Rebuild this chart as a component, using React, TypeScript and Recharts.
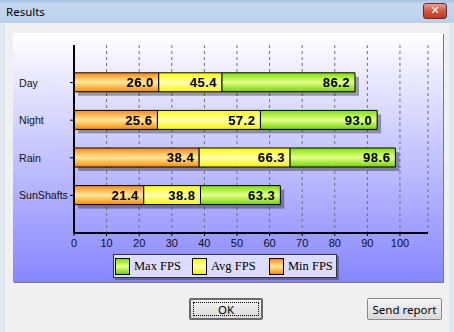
import React from "react";
import { BarChart, Bar, XAxis, YAxis, CartesianGrid, LabelList } from "recharts";

const categories = ["Day", "Night", "Rain", "SunShafts"];
const minFps = [26.0, 25.6, 38.4, 21.4];
const avgFps = [45.4, 57.2, 66.3, 38.8];
const maxFps = [86.2, 93.0, 98.6, 63.3];
const xTicks = [0, 10, 20, 30, 40, 50, 60, 70, 80, 90, 100];
const legendItems = [
  { name: "Max FPS", grad: "linear-gradient(#7fe000, #e4ff8a 50%, #6fd000)" },
  { name: "Avg FPS", grad: "linear-gradient(#ffff00, #ffffb0 50%, #f4f400)" },
  { name: "Min FPS", grad: "linear-gradient(#ff8c10, #ffe79a 50%, #ff8c00)" },
];

// stacked segments are the gaps between the readings
const rows = categories.map((name, i) => ({
  name,
  min: minFps[i],
  avg: avgFps[i],
  max: maxFps[i],
  avgSeg: +(avgFps[i] - minFps[i]).toFixed(1),
  maxSeg: +(maxFps[i] - avgFps[i]).toFixed(1),
}));

const labelStyle = { fontFamily: "Liberation Sans, Arial, sans-serif", fontSize: 13, fontWeight: 700, letterSpacing: 0.5 };
const fmt = (v: any) => Number(v).toFixed(1);

function YTick(props: any) {
  const { y, payload } = props;
  return (
    <text x={6} y={y} dy={4} fontSize={10.6} fontFamily="Liberation Sans, Arial, sans-serif" fill="#111">
      {payload.value}
    </text>
  );
}

// draws the drop shadow of the whole stack under the first segment
function MinShape(props: any) {
  const { x, y, width, height, payload } = props;
  const full = payload.min > 0 ? (width * payload.max) / payload.min : width;
  return (
    <g>
      <rect x={x + 4} y={y + 4} width={full} height={height} fill="rgba(0,0,0,0.33)" />
      <rect x={x} y={y} width={width} height={height} fill="url(#gMin)" stroke="#000" />
    </g>
  );
}

function Button({ left, width, label, def }: { left: number; width: number; label: string; def?: boolean }) {
  return (
    <div
      style={{
        position: "absolute",
        left,
        top: 298,
        width,
        height: 22,
        boxSizing: "border-box",
        border: def ? "2px solid #6a6a6a" : "1px solid #8a8a8a",
        borderRadius: 2,
        background: "linear-gradient(#f6f6f6, #e6e6e6 50%, #dadada)",
        fontFamily: "Noto Sans, Arial, sans-serif",
        fontSize: 11.5,
        display: "flex",
        alignItems: "center",
        justifyContent: "center",
        whiteSpace: "nowrap",
      }}
    >
      {def && (
        <div style={{ position: "absolute", left: 2, top: 2, right: 2, bottom: 2, border: "1px dotted #000" }} />
      )}
      {label}
    </div>
  );
}

export default function App() {
  return (
    <div style={{ position: "fixed", left: 0, top: 0, width: 454, height: 332, background: "#f0f0f0", overflow: "hidden" }}>
      {/* title bar */}
      <div
        style={{
          position: "absolute",
          left: 0,
          top: 0,
          width: 454,
          height: 23,
          background: "linear-gradient(#a9c3e4, #c4d7ef 20%, #bad0ea)",
        }}
      >
        <span
          style={{
            position: "absolute",
            left: 6,
            top: 4,
            fontFamily: "Noto Sans, Arial, sans-serif",
            fontSize: 11.5,
            color: "#000",
          }}
        >
          Results
        </span>
        <div
          style={{
            position: "absolute",
            left: 423,
            top: 3,
            width: 24,
            height: 16,
            boxSizing: "border-box",
            border: "1px solid #6b2b22",
            borderRadius: 3,
            background: "linear-gradient(#e7a293, #d0583e 50%, #c23a20)",
            color: "#fff",
            fontFamily: "DejaVu Sans, sans-serif",
            fontWeight: 700,
            fontSize: 11,
            lineHeight: "14px",
            textAlign: "center",
          }}
        >
          ✕
        </div>
      </div>
      <div style={{ position: "absolute", left: 0, top: 23, width: 5, height: 309, background: "#dfe7f1" }} />
      <div style={{ position: "absolute", left: 449, top: 23, width: 5, height: 309, background: "#dfe7f1" }} />

      {/* chart panel */}
      <div
        style={{
          position: "absolute",
          left: 13,
          top: 33,
          width: 430,
          height: 249,
          background: "linear-gradient(#ffffff, #8686ff)",
          boxShadow: "1px 1px 0 #7a7a7a",
        }}
      >
        <BarChart width={430} height={249} data={rows} layout="vertical" margin={{ top: 12, right: 15, bottom: 0, left: 0 }}>
          <defs>
            <linearGradient id="gMin" x1="0" y1="0" x2="0" y2="1">
              <stop offset="0%" stopColor="#ff8a10" />
              <stop offset="50%" stopColor="#ffe89c" />
              <stop offset="100%" stopColor="#ff8a00" />
            </linearGradient>
            <linearGradient id="gAvg" x1="0" y1="0" x2="0" y2="1">
              <stop offset="0%" stopColor="#ffff00" />
              <stop offset="50%" stopColor="#ffffb4" />
              <stop offset="100%" stopColor="#f6f600" />
            </linearGradient>
            <linearGradient id="gMax" x1="0" y1="0" x2="0" y2="1">
              <stop offset="0%" stopColor="#7ee000" />
              <stop offset="50%" stopColor="#e4ff8c" />
              <stop offset="100%" stopColor="#70d400" />
            </linearGradient>
          </defs>
          <CartesianGrid horizontal={false} stroke="#707070" strokeDasharray="3 3" />
          <XAxis
            type="number"
            domain={[0, 108.6]}
            ticks={xTicks}
            height={49}
            tickSize={3}
            tickMargin={3}
            axisLine={{ stroke: "#000", strokeWidth: 2 }}
            tickLine={{ stroke: "#000" }}
            tick={{ fontSize: 11, fill: "#111", fontFamily: "Liberation Sans, Arial, sans-serif" }}
          />
          <XAxis xAxisId="top" orientation="top" type="number" domain={[0, 108.6]} height={0} tick={false} tickLine={false} axisLine={{ stroke: "#000" }} />
          <YAxis
            type="category"
            dataKey="name"
            width={61}
            padding={{ top: 18.8, bottom: 18.8 }}
            tickSize={4}
            axisLine={{ stroke: "#000", strokeWidth: 2 }}
            tickLine={{ stroke: "#000" }}
            tick={<YTick />}
          />
          <YAxis yAxisId="right" orientation="right" type="category" dataKey="name" width={0} tick={false} tickLine={false} axisLine={{ stroke: "#000" }} />
          <Bar dataKey="min" stackId="s" barSize={19} shape={<MinShape />} isAnimationActive={false}>
            <LabelList dataKey="min" position="insideRight" offset={5} formatter={fmt} fill="#000" style={labelStyle} />
          </Bar>
          <Bar dataKey="avgSeg" stackId="s" barSize={19} fill="url(#gAvg)" stroke="#000" isAnimationActive={false}>
            <LabelList dataKey="avg" position="insideRight" offset={5} formatter={fmt} fill="#000" style={labelStyle} />
          </Bar>
          <Bar dataKey="maxSeg" stackId="s" barSize={19} fill="url(#gMax)" stroke="#000" isAnimationActive={false}>
            <LabelList dataKey="max" position="insideRight" offset={5} formatter={fmt} fill="#000" style={labelStyle} />
          </Bar>
        </BarChart>

        {/* legend */}
        <div
          style={{
            position: "absolute",
            left: 100,
            top: 221,
            width: 224,
            height: 24,
            boxSizing: "border-box",
            border: "1px solid #333",
            background: "#dcdcff",
            boxShadow: "2px 2px 0 rgba(60,60,90,0.5)",
            display: "flex",
            alignItems: "center",
            paddingLeft: 1,
            whiteSpace: "nowrap",
          }}
        >
          {legendItems.map((it, i) => (
            <div key={it.name} style={{ display: "flex", alignItems: "center", width: i < 2 ? 77 : undefined, flexShrink: 0 }}>
              <div style={{ width: 15, height: 17, boxSizing: "border-box", border: "1px solid #000", background: it.grad, marginRight: 4, flexShrink: 0 }} />
              <span style={{ fontFamily: "Liberation Serif, Times New Roman, serif", fontSize: 12.5, color: "#000" }}>{it.name}</span>
            </div>
          ))}
        </div>
      </div>

      <Button left={189} width={74} label="OK" def />
      <Button left={367} width={75} label="Send report" />
    </div>
  );
}
